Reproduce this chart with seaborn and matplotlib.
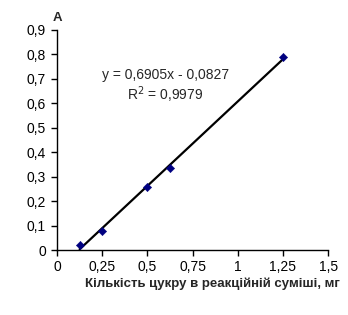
import matplotlib
matplotlib.use("Agg")
import matplotlib.pyplot as plt
import seaborn as sns
import numpy as np
import pandas as pd

sns.set_style("white")
plt.rcParams['font.family'] = ['Liberation Sans', 'DejaVu Sans']

sugar_mg = [0.125, 0.25, 0.5, 0.625, 1.25]
absorbance = [0.02, 0.08, 0.26, 0.335, 0.79]
slope = 0.6905
intercept = -0.0827
x_ticks = [0, 0.25, 0.5, 0.75, 1, 1.25, 1.5]
x_tick_labels = ["0", "0,25", "0,5", "0,75", "1", "1,25", "1,5"]
y_ticks = [0, 0.1, 0.2, 0.3, 0.4, 0.5, 0.6, 0.7, 0.8, 0.9]
y_tick_labels = ["0", "0,1", "0,2", "0,3", "0,4", "0,5", "0,6", "0,7", "0,8", "0,9"]

df = pd.DataFrame({"x": sugar_mg, "y": absorbance})
trend = pd.DataFrame({"x": [min(sugar_mg), max(sugar_mg)]})
trend["y"] = slope * trend["x"] + intercept

fig = plt.figure(figsize=(3.48, 3.15), dpi=100)
ax = fig.add_axes([0.164, 0.206, 0.779, 0.699])

sns.lineplot(data=trend, x="x", y="y", ax=ax, color="black", linewidth=1.6, zorder=2)
sns.scatterplot(data=df, x="x", y="y", ax=ax, marker="D", color="#000080",
                s=18, edgecolor="#000080", zorder=3)

ax.set_xlim(0, 1.5)
ax.set_ylim(0, 0.9)
ax.set_xticks(x_ticks)
ax.set_xticklabels(x_tick_labels)
ax.set_yticks(y_ticks)
ax.set_yticklabels(y_tick_labels)
ax.set_xlabel("")
ax.set_ylabel("")
sns.despine(ax=ax)
for s in ["left", "bottom"]:
    ax.spines[s].set_color("black")
    ax.spines[s].set_linewidth(1.0)
ax.tick_params(axis="both", direction="out", length=4, width=1, color="black",
               labelsize=10, labelcolor="black", bottom=True, left=True)
ax.tick_params(axis="x", pad=3)
ax.tick_params(axis="y", pad=4)

ax.text(0.60, 0.667, "y = 0,6905x - 0,0827\nR$^2$ = 0,9979", fontsize=10,
        ha="center", va="center", transform=ax.transData, linespacing=1.15)

fig.text(57/348, 1 - 18/315, "A", fontsize=9.5, fontweight="bold", ha="center", va="center")
fig.text(212/348, 1 - 284/315, "Кількість цукру в реакційній суміші, мг", fontsize=9.5,
         fontweight="bold", ha="center", va="center")

fig.savefig("out.png", dpi=100)
